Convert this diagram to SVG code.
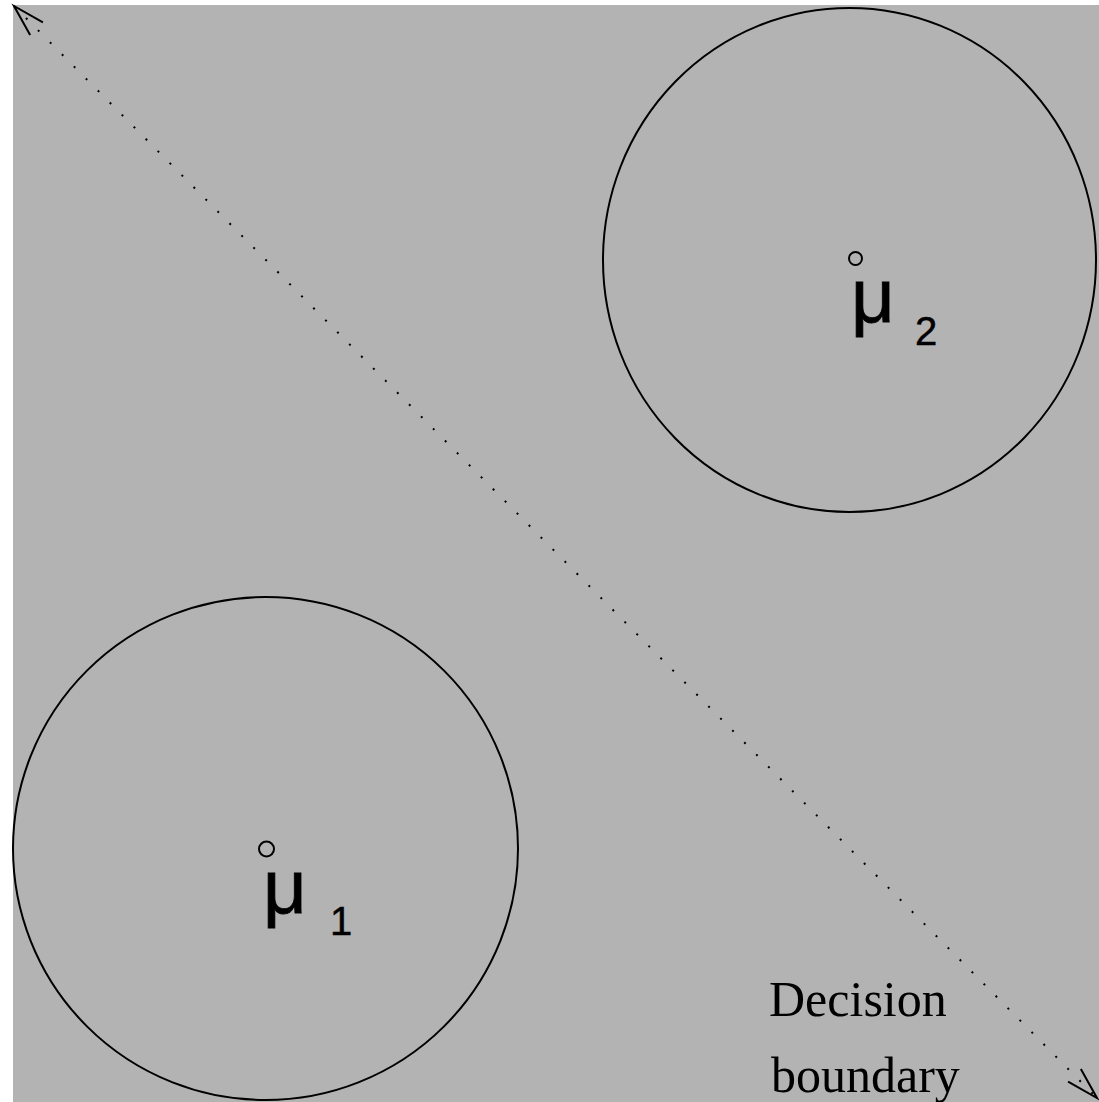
<svg xmlns="http://www.w3.org/2000/svg" width="1099" height="1102" viewBox="0 0 1099 1102">
<style>
.ring{fill:none;stroke:#000;stroke-width:2}
.mark{fill:none;stroke:#000;stroke-width:2}
.mu{font-family:"Liberation Sans",Arial,sans-serif;fill:#000}
.lbl{font-family:"Liberation Serif","Times New Roman",serif;font-size:50px;fill:#000}
</style>
<defs>
<marker id="arr" markerUnits="userSpaceOnUse" markerWidth="40" markerHeight="24" refX="0" refY="0" viewBox="-36 -12 40 24" orient="auto-start-reverse" overflow="visible">
<path d="M-32,-9 L0,0 L-32,9" fill="none" stroke="#000" stroke-width="2"/>
</marker>
</defs>
<rect x="0" y="0" width="1099" height="1102" fill="#ffffff"/>
<rect x="13" y="5" width="1086" height="1097" fill="#b3b3b3"/>
<g id="connectors">
<line x1="14" y1="6" x2="1097" y2="1098" stroke="#000" stroke-width="2" stroke-dasharray="2 15" marker-start="url(#arr)" marker-end="url(#arr)"/>
</g>
<g id="class2">
<ellipse class="ring" cx="849.5" cy="260" rx="246.5" ry="252"/>
<circle class="mark" cx="855.5" cy="258.5" r="6.5"/>
<text class="mu" x="851" y="322" font-size="76" stroke="#000" stroke-width="0.8">μ<tspan x="915" y="345" font-size="40" stroke-width="0.5">2</tspan></text>
</g>
<g id="class1">
<ellipse class="ring" cx="265.5" cy="848.5" rx="252.5" ry="251.5"/>
<circle class="mark" cx="266.5" cy="849" r="7.5"/>
<text class="mu" x="263" y="913" font-size="76" stroke="#000" stroke-width="0.8">μ<tspan x="330" y="935" font-size="40" stroke-width="0.5">1</tspan></text>
</g>
<g id="boundary-label">
<text class="lbl" x="769" y="1016">Decision</text>
<text class="lbl" x="771" y="1092">boundary</text>
</g>
</svg>
